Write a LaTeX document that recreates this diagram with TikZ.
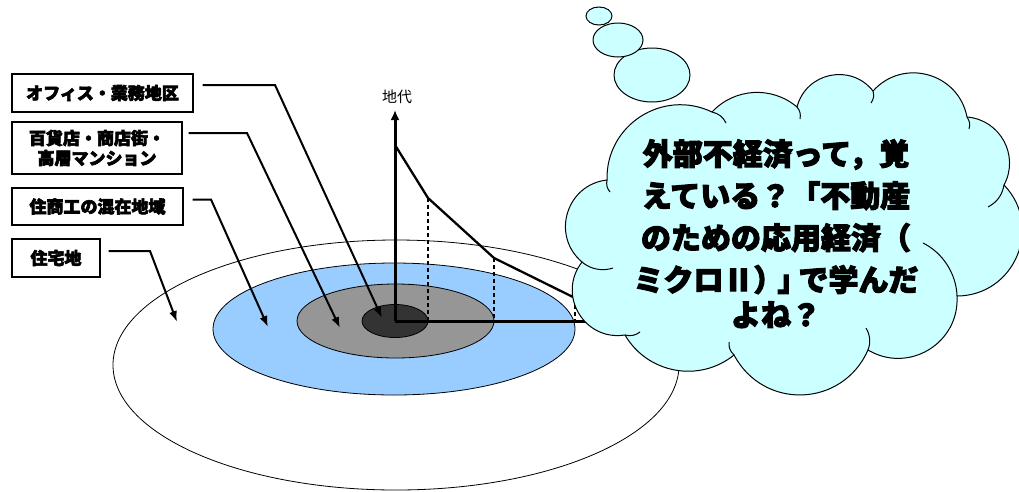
\documentclass[tikz,border=0pt]{standalone}
\usepackage{fontspec}
\usetikzlibrary{arrows.meta,calc}
\newfontfamily\jp{Noto Sans CJK JP}
\newfontfamily\jpheavy{Noto Sans CJK JP}[BoldFeatures={FakeBold=3.5}]
\definecolor{zoneblue}{HTML}{99CCFF}
\definecolor{zonegray}{HTML}{969696}
\definecolor{zonedark}{HTML}{333333}
\definecolor{cloudfill}{HTML}{CCFFFF}

\begin{document}
\begin{tikzpicture}[x=1pt,y=-1pt,
  zone/.style={draw=black,line width=0.8pt},
  lbl/.style={draw=black,line width=1.3pt,fill=white,inner sep=0pt,align=center,
              font=\jpheavy\bfseries\fontsize{17}{20}\selectfont},
  lead/.style={line width=2pt,-{Latex[length=11pt,width=8pt]}},
  axisline/.style={line width=3pt},
  drop/.style={line width=1.3pt,dash pattern=on 4pt off 3pt},
  bubble/.style={draw=black,line width=1pt,fill=cloudfill},
  seam/.style={draw=black,line width=1pt},
]
\useasboundingbox (0,0) rectangle (1019,491);
\fill[white] (0,0) rectangle (1019,491);

% concentric land-use zones
\draw[zone,fill=white]     (396,365) ellipse [x radius=283pt,y radius=125pt];
\draw[zone,fill=zoneblue]  (394,329) ellipse [x radius=181pt,y radius=66pt];
\draw[zone,fill=zonegray]  (395.5,321) ellipse [x radius=98.5pt,y radius=37pt];
\draw[zone,fill=zonedark]  (395,321) ellipse [x radius=33pt,y radius=16.5pt];

% bid-rent curve above the zones
\coordinate (O)    at (395,321);
\coordinate (ytop) at (395,110);
\coordinate (xend) at (650,321);
\coordinate (c0) at (395,145);
\coordinate (c1) at (428,198);
\coordinate (c2) at (494,258);
\coordinate (c3) at (575,298);
\coordinate (c4) at (640,316);
\draw[drop] (c1) -- (c1 |- O);
\draw[drop] (c2) -- (c2 |- O);
\draw[drop] (c3) -- (c3 |- O);
\draw[line width=2.3pt,line join=round] (c0) -- (c1) -- (c2) -- (c3) -- (c4);
\draw[axisline] (O) -- (xend);
\draw[axisline,-{Latex[length=10pt,width=9pt]}] (O) -- (ytop);
\node[font=\jp\fontsize{15}{18}\selectfont] (rent) at (397,97) {地代};

% zone labels
\node[lbl,minimum width=181pt,minimum height=38pt] (b1) at (102.5,93) {オフィス・業務地区};
\node[lbl,minimum width=170pt,minimum height=52pt] (b2) at (97,148) {百貨店・商店街・\\高層マンション};
\node[lbl,minimum width=171pt,minimum height=37pt] (b3) at (97.5,206.5) {住商工の混在地域};
\node[lbl,minimum width=88pt,minimum height=38pt]  (b4) at (56,258) {住宅地};

\coordinate (t1) at (382,318);
\coordinate (t2) at (340,328);
\coordinate (t3) at (268,327);
\coordinate (t4) at (177,322);
\draw[lead] ($(b1.east)+(9pt,8pt)$)  -- (275,85)  -- (t1);
\draw[lead] ($(b2.east)+(6pt,15pt)$) -- (247,133) -- (t2);
\draw[lead] ($(b3.east)+(9pt,7pt)$)  -- (211,199.5) -- (t3);
\draw[lead] ($(b4.east)+(8pt,7pt)$)  -- (150,251) -- (t4);

% thought cloud
\draw[bubble] (607,180) to[bend left=58.5,looseness=1.12] (712,112)
  to[bend left=43.6,looseness=0.99] (797,107)
  to[bend left=63.6,looseness=1.18] (873,91)
  to[bend left=63.6,looseness=1.18] (967,117)
  to[bend left=56.8,looseness=1.10] (1004,185)
  to[bend left=66.8,looseness=1.22] (957,296)
  to[bend left=62,looseness=1.16] (868,350)
  to[bend left=64,looseness=1.2] (734,355)
  to[bend left=49.4,looseness=1.03] (625,335)
  to[bend left=68.4,looseness=1.25] (582,262)
  to[bend left=66.8,looseness=1.22] (607,180) -- cycle;
% seams where the bumps overlap
\draw[seam] (607,180) to[bend right=25] (610,192);
\draw[seam] (712,112) to[bend left=25] (726,123);
\draw[seam] (797,107) to[bend left=25] (800,119);
\draw[seam] (873,91) to[bend left=25] (871,103);
\draw[seam] (967,117) to[bend left=25] (969,129);
\draw[seam] (1004,185) to[bend left=25] (988,207);
\draw[seam] (957,296) to[bend right=31,looseness=0.9] (923,243);
\draw[seam] (868,350) to[bend right=25] (866,328);
\draw[seam] (734,355) to[bend left=25] (729,342);
\draw[seam] (625,335) to[bend right=25] (640,332);
\draw[seam] (582,262) to[bend right=30,looseness=0.9] (613,268);

% trailing bubbles
\draw[bubble] (652,75) ellipse [x radius=38pt,y radius=27pt];
\draw[bubble] (618,40) ellipse [x radius=25pt,y radius=17pt];
\draw[bubble] (599,16) ellipse [x radius=13pt,y radius=9pt];

\node[font=\jpheavy\bfseries\fontsize{30}{42}\selectfont,align=center,anchor=base,inner sep=0pt] (msg)
  at (776,326) {外部不経済って，覚\\えている？「不動産\\のための応用経済（\\ミクロⅡ）\kern-6pt」\kern-9pt で学んだ\\[-7pt]よね？};
\end{tikzpicture}
\end{document}
